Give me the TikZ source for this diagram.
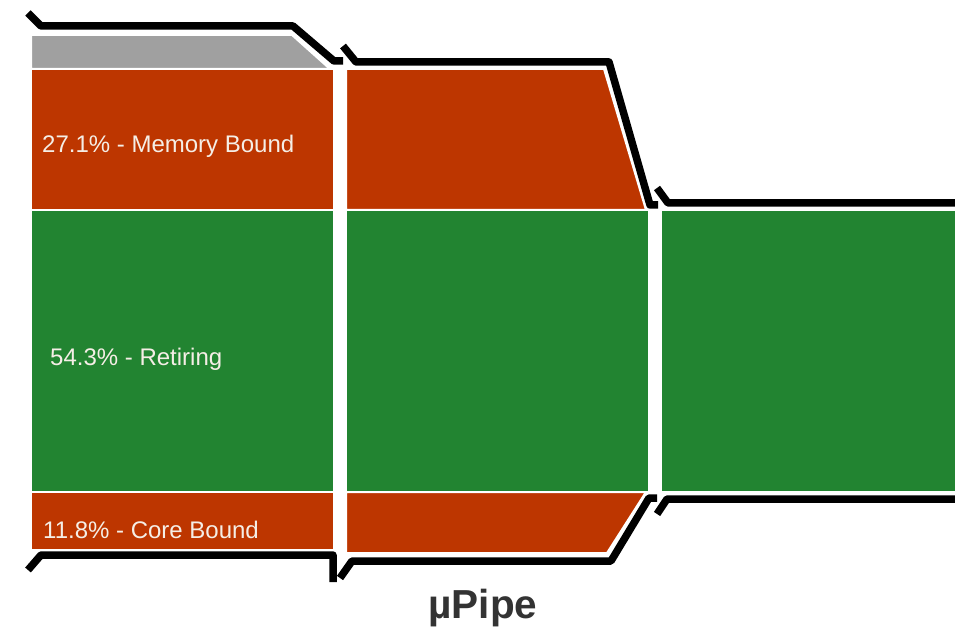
\documentclass[tikz,border=0pt]{standalone}
\usepackage{fontspec}
\setmainfont{Liberation Sans}
\definecolor{boundred}{RGB}{189,54,0}
\definecolor{retgreen}{RGB}{34,132,49}
\definecolor{unkgray}{RGB}{160,160,160}
\definecolor{pcttext}{RGB}{245,238,230}
\definecolor{titlegray}{RGB}{51,51,51}

\begin{document}
\begin{tikzpicture}[x=1pt,y=-1pt]
        %
        % `cell' is used for the coloured slots of the pipe.
        % `pipe' is used for the black outline pieces.
        % `pct' is used for the percentages in the first column.
        \tikzstyle{cell} = [draw=white,line width=2pt,line join=miter]
        \tikzstyle{pipe} = [draw=black,line width=7.5pt,line join=round]
        \tikzstyle{pct} = [text=pcttext,font=\fontsize{24}{29}\selectfont,anchor=base west,inner sep=0pt]
        %
        % Frame
        \useasboundingbox (0,0) rectangle (955,628);
        \clip (0,0) rectangle (955,628);
        %
        % Column 1
        \draw[cell,fill=unkgray] (31,35) -- (292,35) -- (330,69) -- (31,69) -- cycle;
        \draw[cell,fill=boundred] (31,69) rectangle (334,210);
        \draw[cell,fill=retgreen] (31,210) rectangle (334,492);
        \draw[cell,fill=boundred] (31,492) rectangle (334,550);
        %
        % Column 2
        \draw[cell,fill=boundred] (346,69) -- (604,69) -- (646,210) -- (346,210) -- cycle;
        \draw[cell,fill=retgreen] (346,210) rectangle (649,492);
        \draw[cell,fill=boundred] (346,492) -- (646,492) -- (607,553) -- (346,553) -- cycle;
        %
        % Column 3
        \draw[cell,fill=retgreen] (661,210) rectangle (962,492);
        %
        % Outline
        \draw[pipe] (28,13) -- (41,26) -- (293,26) -- (334,61) -- (343,61);
        \draw[pipe] (28,570) -- (41,555) -- (333,555) -- (333,582);
        \draw[pipe] (343,46) -- (356,62) -- (609,62) -- (650,205) -- (658,205);
        \draw[pipe] (340,578) -- (352,561) -- (611,561) -- (649,498) -- (657,498);
        \draw[pipe] (657,188) -- (668,203) -- (962,203);
        \draw[pipe] (657,514) -- (667,499) -- (962,499);
        %
        % Labels
        \node[pct] (memlbl) at (42,153) {27.1\% - Memory Bound};
        \node[pct] (retlbl) at (50,365) {54.3\% - Retiring};
        \node[pct] (corelbl) at (43,538) {11.8\% - Core Bound};
        \node[anchor=base,inner sep=0pt,text=titlegray,font=\bfseries\fontsize{40.5}{48}\selectfont] (title) at (483,618) {µPipe};
        %
\end{tikzpicture}
\end{document}
